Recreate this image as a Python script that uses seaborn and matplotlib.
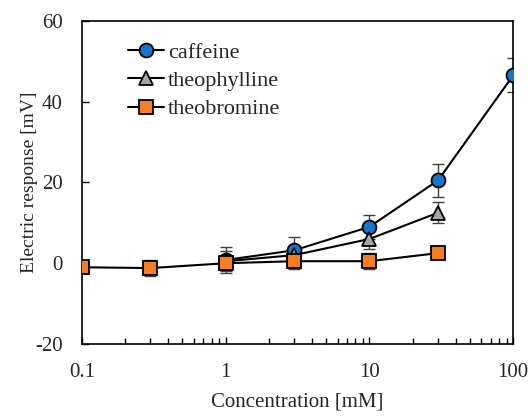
import numpy as np
import pandas as pd
import matplotlib
matplotlib.use("Agg")
import matplotlib.pyplot as plt
import seaborn as sns
from matplotlib.ticker import LogLocator, FixedLocator, NullFormatter

# Concentrations (mM) and mean responses (mV) with error bars
caffeine_x = [1, 3, 10, 30, 100]
caffeine_y = [0.8, 3.2, 9.0, 20.5, 46.5]
caffeine_err = [3.3, 3.2, 3.0, 4.0, 4.2]

theophylline_x = [1, 3, 10, 30]
theophylline_y = [0.5, 2.0, 6.0, 12.5]
theophylline_err = [2.5, 2.0, 2.5, 2.6]

theobromine_x = [0.1, 0.3, 1, 3, 10, 30]
theobromine_y = [-1.0, -1.2, 0.0, 0.5, 0.5, 2.5]
theobromine_err = [1.5, 2.0, 1.8, 2.0, 2.0, 1.5]

x_ticks = [0.1, 1, 10, 100]
x_ticklabels = ["0.1", "1", "10", "100"]
y_ticks = [-20, 0, 20, 40, 60]

sns.set_theme(style="ticks")
plt.rcParams["font.family"] = ["Liberation Serif", "DejaVu Serif"]

series = [
    ("caffeine", caffeine_x, caffeine_y, caffeine_err, "o", "#1874CD", 10),
    ("theophylline", theophylline_x, theophylline_y, theophylline_err, "^", "#A6A6A6", 9.5),
    ("theobromine", theobromine_x, theobromine_y, theobromine_err, "s", "#F57F20", 9.5),
]

fig = plt.figure(figsize=(5.28, 4.16), dpi=100)
ax = fig.add_axes([0.155, 0.173, 0.817, 0.777])

for name, xs, ys, es, mk, col, ms in series:
    ax.errorbar(xs, ys, yerr=es, fmt="none", ecolor="#404040",
                elinewidth=1.0, capsize=4, capthick=1.0, zorder=2)

for i, (name, xs, ys, es, mk, col, ms) in enumerate(series):
    df = pd.DataFrame({"x": xs, "y": ys})
    sns.lineplot(data=df, x="x", y="y", ax=ax, color="black", linewidth=1.5,
                 marker=mk, markersize=ms, markerfacecolor=col,
                 markeredgecolor="black", markeredgewidth=1.3,
                 label=name, zorder=3 + i)

ax.set_xscale("log")
ax.set_xlim(0.1, 100)
ax.set_ylim(-20, 60)
ax.xaxis.set_major_locator(FixedLocator(x_ticks))
ax.set_xticklabels(x_ticklabels)
ax.xaxis.set_minor_locator(LogLocator(base=10, subs=np.arange(2, 10)))
ax.xaxis.set_minor_formatter(NullFormatter())
ax.set_yticks(y_ticks)
ax.set_yticklabels([str(v) for v in y_ticks])

ax.tick_params(axis="both", which="major", direction="in", length=5,
               width=1.0, labelsize=15, color="black")
ax.tick_params(axis="x", which="major", pad=14)
ax.tick_params(axis="y", which="major", pad=14)
ax.tick_params(axis="x", which="minor", direction="in", length=4,
               width=1.0, color="black")
for sp in ax.spines.values():
    sp.set_color("black")
    sp.set_linewidth(1.2)

ax.set_xlabel("Concentration [mM]", fontsize=15, labelpad=7)
ax.set_ylabel("Electric response [mV]", fontsize=14, labelpad=-2)

leg = ax.legend(loc="upper left", bbox_to_anchor=(0.076, 0.975), frameon=False,
                fontsize=16, handlelength=1.6, handletextpad=0.2,
                labelspacing=0.35, borderaxespad=0.2)

fig.savefig("out.png", dpi=100)
